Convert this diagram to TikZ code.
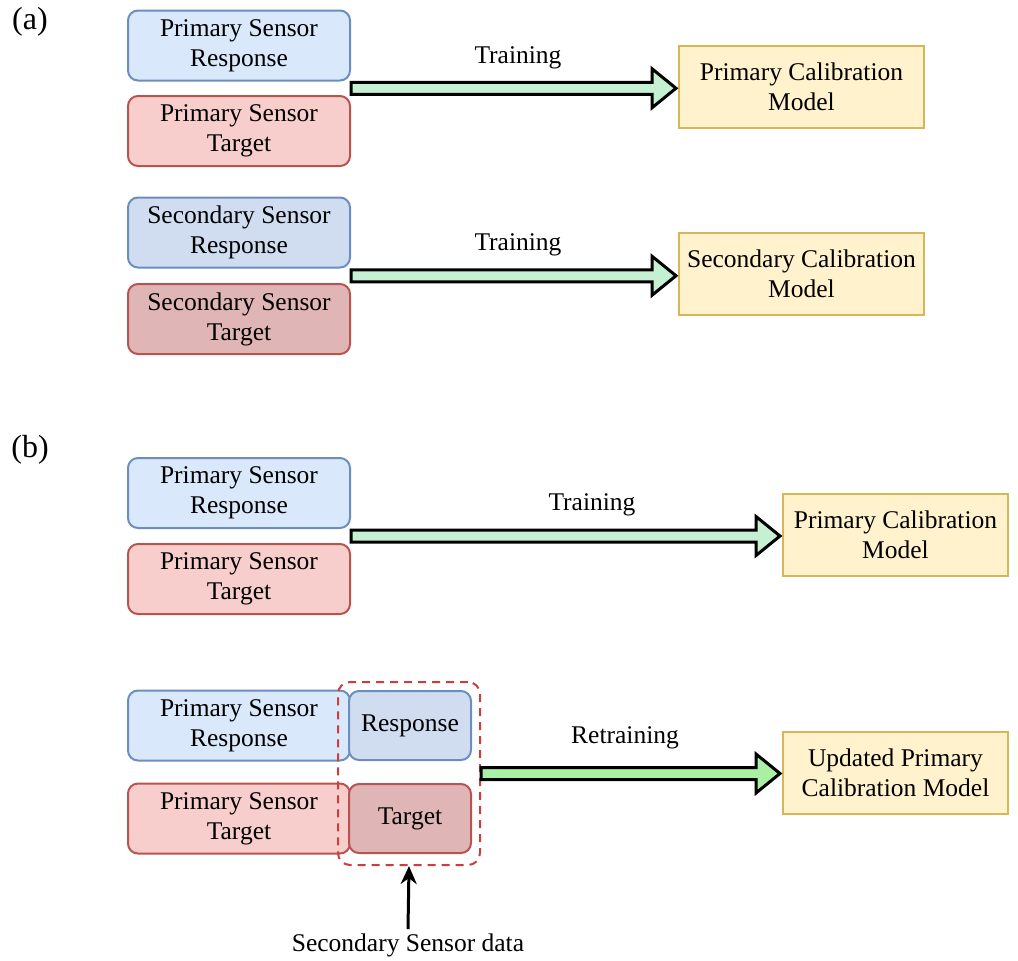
\documentclass[tikz,border=0pt]{standalone}
\usepackage{fontspec}
\setmainfont{Liberation Serif}
\usetikzlibrary{calc}
\usetikzlibrary{arrows.meta}

\definecolor{respfill}{HTML}{DAE8FC}
\definecolor{respline}{HTML}{6C8EBF}
\definecolor{resptwo}{HTML}{D0DDF0}
\definecolor{targfill}{HTML}{F8CECC}
\definecolor{targline}{HTML}{B85450}
\definecolor{targtwo}{HTML}{E0B5B5}
\definecolor{modfill}{HTML}{FFF2CC}
\definecolor{modline}{HTML}{D6B656}
\definecolor{trainfill}{HTML}{C6F0D2}
\definecolor{retrainfill}{HTML}{AAF0A4}
\definecolor{grpline}{HTML}{CC3D3D}

\tikzset{
  txt/.style={font=\fontsize{12.75}{15}\selectfont},
  sensbox/.style={rectangle,txt,draw,rounded corners=5pt,line width=1pt,align=center,inner sep=0pt,minimum width=111pt,minimum height=35pt},
  respbox/.style={sensbox,draw=respline,fill=respfill},
  resptwobox/.style={sensbox,draw=respline,fill=resptwo},
  targbox/.style={sensbox,draw=targline,fill=targfill},
  targtwobox/.style={sensbox,draw=targline,fill=targtwo},
  modbox/.style={rectangle,txt,draw=modline,fill=modfill,line width=1pt,align=center,inner sep=0pt,minimum width=122.5pt,minimum height=41pt},
  fatline/.style={draw=black,line width=1.5pt,line join=miter},
  panel/.style={font=\fontsize{16}{19}\selectfont,inner sep=0pt}
}

\newcommand\fatarrow[3]{%
  \draw[fatline,fill=#3] let \p1=(#1), \p2=(#2) in
    (\x1,\y1+3pt) -- (\x2-13pt,\y1+3pt) -- (\x2-13pt,\y1+9.75pt) -- (\x2-1pt,\y1)
    -- (\x2-13pt,\y1-9.75pt) -- (\x2-13pt,\y1-3pt) -- (\x1,\y1-3pt) -- cycle;}

\begin{document}
\begin{tikzpicture}[x=0.5pt,y=-0.5pt]
\useasboundingbox (0,0) rectangle (1018,960);

\node[panel] (pa) at (30,22) {(a)};

\node[respbox] (prA) at (239,45.5) {Primary Sensor\\Response};
\node[targbox] (ptA) at (239,131) {Primary Sensor\\Target};
\node[modbox] (calA) at (801.5,87) {Primary Calibration\\Model};
\coordinate (stA) at ($(prA.south east)!0.5!(ptA.north east)$);
\fatarrow{stA}{calA.west}{trainfill}
\node[txt] (trA) at (518,58) {Training};

\node[resptwobox] (srA) at (239,232.5) {Secondary Sensor\\Response};
\node[targtwobox] (stgA) at (239,319) {Secondary Sensor\\Target};
\node[modbox] (calB) at (801.5,274) {Secondary Calibration\\Model};
\coordinate (stB) at ($(srA.south east)!0.5!(stgA.north east)$);
\fatarrow{stB}{calB.west}{trainfill}
\node[txt] (trB) at (518,245) {Training};

\node[panel] (pb) at (30,450) {(b)};

\node[respbox] (prB) at (239,493) {Primary Sensor\\Response};
\node[targbox] (ptB) at (239,579) {Primary Sensor\\Target};
\node[modbox,minimum width=112.5pt] (calC) at (895.5,535) {Primary Calibration\\Model};
\coordinate (stC) at ($(prB.south east)!0.5!(ptB.north east)$);
\fatarrow{stC}{calC.west}{trainfill}
\node[txt] (trC) at (592,505) {Training};

\node[respbox] (prC) at (239,725.5) {Primary Sensor\\Response};
\node[targbox] (ptC) at (239,818.5) {Primary Sensor\\Target};
\node[resptwobox,minimum width=61pt,minimum height=34.5pt] (resp) at (410,725.5) {Response};
\node[targtwobox,minimum width=61pt,minimum height=34.5pt] (targ) at (410,818.5) {Target};
\node[rectangle,draw=grpline,dash pattern=on 4pt off 3pt,line width=1pt,rounded corners=6pt,minimum width=71pt,minimum height=91.5pt] (grp) at (409,773.5) {};
\node[modbox,minimum width=112.5pt] (calD) at (895.5,772.5) {Updated Primary\\Calibration Model};
\fatarrow{grp.east}{calD.west}{retrainfill}
\node[txt] (rtr) at (625,738) {Retraining};

\node[txt,inner sep=2pt] (sdata) at (408,945) {Secondary Sensor data};
\draw[-{Stealth[length=9pt,width=8pt]},line width=1.5pt] (sdata.north) -- (grp.south);

\end{tikzpicture}
\end{document}
